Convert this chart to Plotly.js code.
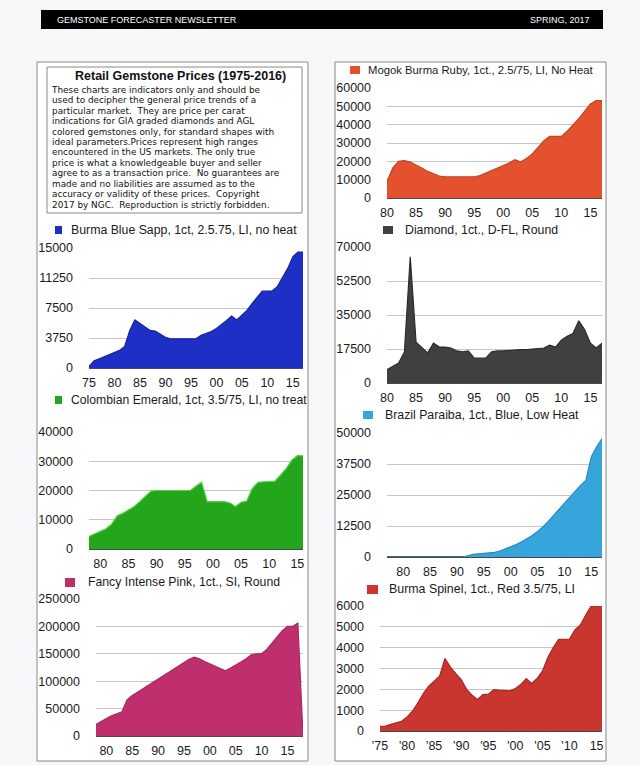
<!DOCTYPE html>
<html>
<head>
<meta charset="utf-8">
<script src="https://cdn.plot.ly/plotly-3.0.1.min.js"></script>
<style>
  html, body { margin: 0; padding: 0; background: #f7f7f9; }
  #chart { width: 640px; height: 765px; }
</style>
</head>
<body>
<div id="chart"></div>
<script>
// ---------------- DATA ----------------
const sappYears = [1975,1976,1977,1978,1979,1980,1981,1982,1983,1984,1985,1986,1987,1988,1989,1990,1991,1992,1993,1994,1995,1996,1997,1998,1999,2000,2001,2002,2003,2004,2005,2006,2007,2008,2009,2010,2011,2012,2013,2014,2015,2016,2017];
const sappValues = [200,900,1150,1400,1650,1900,2200,2700,4700,6000,5600,5150,4700,4600,4200,3850,3650,3650,3650,3650,3650,3650,4100,4300,4550,4950,5400,5950,6500,6000,6600,7200,8050,8900,9600,9600,9650,10200,11250,12450,13900,14500,14500];

const rubyYears = [1980,1981,1982,1983,1984,1985,1986,1987,1988,1989,1990,1991,1992,1993,1994,1995,1996,1997,1998,1999,2000,2001,2002,2003,2004,2005,2006,2007,2008,2009,2010,2011,2012,2013,2014,2015,2016,2017];
const rubyValues = [9000,16400,20000,20400,19600,18200,16400,14500,13100,12000,11500,11500,11500,11500,11500,11600,12200,13600,14900,16400,17600,19100,20900,19600,21500,24000,27600,31300,33600,33600,33600,36400,39600,43300,47300,51300,53100,53100];

const diamondYears = [1980,1981,1982,1983,1984,1985,1986,1987,1988,1989,1990,1991,1992,1993,1994,1995,1996,1997,1998,1999,2000,2001,2002,2003,2004,2005,2006,2007,2008,2009,2010,2011,2012,2013,2014,2015,2016,2017];
const diamondValues = [6900,8600,10300,16000,65000,21000,18000,15500,20500,18500,18500,18000,16500,16000,16500,12800,12800,12800,16000,16500,16500,16800,17200,17200,17200,17500,17500,18000,19500,18500,22000,24000,25500,32000,27500,20500,18000,20500];

const emeraldYears = [1978,1979,1980,1981,1982,1983,1984,1985,1986,1987,1988,1989,1990,1991,1992,1993,1994,1995,1996,1997,1998,1999,2000,2001,2002,2003,2004,2005,2006,2007,2008,2009,2010,2011,2012,2013,2014,2015,2016];
const emeraldValues = [4300,5100,6000,6900,8500,11400,12200,13400,14500,16200,18100,19800,20000,20000,20000,20000,20000,20000,20000,21500,22800,16200,16200,16200,16200,15800,14500,16000,16400,20700,22800,23000,23000,23200,25300,27500,30400,31900,31900];

const paraibaYears = [1977,1978,1979,1980,1981,1982,1983,1984,1985,1986,1987,1988,1989,1990,1991,1992,1993,1994,1995,1996,1997,1998,1999,2000,2001,2002,2003,2004,2005,2006,2007,2008,2009,2010,2011,2012,2013,2014,2015,2016,2017];
const paraibaValues = [0,0,0,0,0,0,0,0,0,0,0,0,0,0,0,500,1100,1300,1500,1600,1900,2400,3200,4000,5000,6000,7300,8700,10300,12100,14400,16800,19200,21800,24200,26600,28900,30900,40300,44400,47700];

const pinkYears = [1978,1979,1980,1981,1982,1983,1984,1985,1986,1987,1988,1989,1990,1991,1992,1993,1994,1995,1996,1997,1998,1999,2000,2001,2002,2003,2004,2005,2006,2007,2008,2009,2010,2011,2012,2013,2014,2015,2016,2017,2018];
const pinkValues = [21000,27000,32000,37000,41000,44000,66000,74000,80000,86000,92000,98000,104000,110000,116000,122000,128000,134000,140000,144000,141000,136000,132000,128000,124000,119000,124000,129000,135000,141000,148000,150000,150000,158000,170000,180000,192000,200000,200000,206000,0];

const spinelYears = [1975,1976,1977,1978,1979,1980,1981,1982,1983,1984,1985,1986,1987,1988,1989,1990,1991,1992,1993,1994,1995,1996,1997,1998,1999,2000,2001,2002,2003,2004,2005,2006,2007,2008,2009,2010,2011,2012,2013,2014,2015,2016];
const spinelValues = [225,240,320,385,465,675,950,1350,1800,2150,2400,2630,3480,3070,2750,2470,2000,1720,1510,1750,1770,1990,1960,1930,1930,2040,2230,2520,2280,2520,2870,3530,4010,4400,4410,4410,4850,5090,5570,6000,6000,6000];

const legendNames = [
  "Burma Blue Sapp, 1ct, 2.5.75, LI, no heat",
  "Colombian Emerald, 1ct, 3.5/75, LI, no treat",
  "Fancy Intense Pink, 1ct., SI, Round",
  "Mogok Burma Ruby, 1ct., 2.5/75, LI, No Heat",
  "Diamond, 1ct., D-FL, Round",
  "Brazil Paraiba, 1ct., Blue, Low Heat",
  "Burma Spinel, 1ct., Red 3.5/75, LI"
];

const tickYears5 = [1975,1980,1985,1990,1995,2000,2005,2010,2015];
const tickText5 = ["75","80","85","90","95","00","05","10","15"];
const tickYears8 = [1980,1985,1990,1995,2000,2005,2010,2015];
const tickText8 = ["80","85","90","95","00","05","10","15"];
const spinelTickText = ["'75","'80","'85","'90","'95","'00","'05","'10","15"];

const sappTicks = [0,3750,7500,11250,15000];
const emeraldTicks = [0,10000,20000,30000,40000];
const pinkTicks = [0,50000,100000,150000,200000,250000];
const rubyTicks = [0,10000,20000,30000,40000,50000,60000];
const diamondTicks = [0,17500,35000,52500,70000];
const paraibaTicks = [0,12500,25000,37500,50000];
const spinelTicks = [0,1000,2000,3000,4000,5000,6000];

const introTitle = "Retail Gemstone Prices (1975-2016)";
const introLines = [
  "These charts are indicators only and should be",
  "used to decipher the general price trends of a",
  "particular market.  They are price per carat",
  "indications for GIA graded diamonds and AGL",
  "colored gemstones only, for standard shapes with",
  "ideal parameters.Prices represent high ranges",
  "encountered in the US markets. The only true",
  "price is what a knowledgeable buyer and seller",
  "agree to as a transaction price.  No guarantees are",
  "made and no liabilities are assumed as to the",
  "accuracy or validity of these prices.  Copyright",
  "2017 by NGC.  Reproduction is strictly forbidden."
];

// ---------------- LAYOUT ----------------
const W = 640, H = 765;
const fx = p => p / W;
const fy = p => 1 - p / H;
const FONT = "Liberation Sans, Arial, Helvetica, sans-serif";
const INTRO_FONT = "DejaVu Sans, Liberation Sans, sans-serif";
const INTRO_TOP = 85;          // px, top of the intro text block
const INTRO_LINE_FACTOR = 0.9;  // 1.3em -> 1.17em line spacing (no overlap)

const panels = [
  {x: sappYears, y: sappValues, name: legendNames[0], fill: "#1d2fc4", line: "#16249c",
   box: [89,303,248,368], xr: [1975,2017], yr: [0,15000], ytv: sappTicks, xtv: tickYears5, xtt: tickText5,
   sq: [55,62,226,234], tx: 69, ty: 230, fs: 12.3},
  {x: emeraldYears, y: emeraldValues, name: legendNames[1], fill: "#24a61c", line: "#5ad446",
   box: [89,303,432,549], xr: [1978,2016], yr: [0,40000], ytv: emeraldTicks, xtv: tickYears8, xtt: tickText8,
   sq: [55,62,396,404], tx: 69, ty: 400, fs: 12.2},
  {x: pinkYears, y: pinkValues, name: legendNames[2], fill: "#bf2f6d", line: "#a8275e",
   box: [96,303,599,736], xr: [1978,2018], yr: [0,250000], ytv: pinkTicks, xtv: tickYears8, xtt: tickText8,
   sq: [65,75,578,587], tx: 86, ty: 582, fs: 12.25},
  {x: rubyYears, y: rubyValues, name: legendNames[3], fill: "#e4512f", line: "#c9421f",
   box: [387,602,88,198], xr: [1980,2017], yr: [0,60000], ytv: rubyTicks, xtv: tickYears8, xtt: tickText8,
   sq: [350,360,66,74], tx: 366, ty: 70, fs: 11.3},
  {x: diamondYears, y: diamondValues, name: legendNames[4], fill: "#3e4042", line: "#2a2b2c",
   box: [387,602,247,383], xr: [1980,2017], yr: [0,70000], ytv: diamondTicks, xtv: tickYears8, xtt: tickText8,
   sq: [383,393,226,234], tx: 403, ty: 230, fs: 12.3},
  {x: paraibaYears, y: paraibaValues, name: legendNames[5], fill: "#36a5dc", line: "#2a8cc2",
   box: [387,602,433,557], xr: [1977,2017], yr: [0,50000], ytv: paraibaTicks, xtv: tickYears8, xtt: tickText8,
   sq: [363,373,411,419], tx: 383, ty: 415, fs: 12.3},
  {x: spinelYears, y: spinelValues, name: legendNames[6], fill: "#c9352f", line: "#a92723",
   box: [380,602,606,731], xr: [1975,2016], yr: [0,6000], ytv: spinelTicks, xtv: tickYears5, xtt: spinelTickText,
   sq: [367,378,585,594], tx: 387, ty: 589, fs: 12.4}
];

const data = [];
const layout = {
  width: W, height: H,
  margin: {l: 0, r: 0, t: 0, b: 0},
  paper_bgcolor: "#f7f7f9",
  plot_bgcolor: "rgba(0,0,0,0)",
  showlegend: false,
  font: {family: FONT, color: "#1a1a1a"},
  shapes: [],
  annotations: []
};

// page decorations
layout.shapes.push({type: "rect", xref: "paper", yref: "paper", layer: "below",
  x0: fx(41), x1: fx(603), y0: fy(10), y1: fy(29), fillcolor: "#000", line: {width: 0}});
layout.shapes.push({type: "rect", xref: "paper", yref: "paper", layer: "below",
  x0: fx(37), x1: fx(308), y0: fy(62), y1: fy(761), fillcolor: "#ffffff", line: {color: "#8a8a8a", width: 1}});
layout.shapes.push({type: "rect", xref: "paper", yref: "paper", layer: "below",
  x0: fx(335), x1: fx(606), y0: fy(62), y1: fy(761), fillcolor: "#ffffff", line: {color: "#8a8a8a", width: 1}});
layout.shapes.push({type: "rect", xref: "paper", yref: "paper", layer: "below",
  x0: fx(47), x1: fx(302), y0: fy(67), y1: fy(213), fillcolor: "#ffffff", line: {color: "#8a8a8a", width: 1}});

layout.annotations.push({text: "GEMSTONE FORECASTER NEWSLETTER", xref: "paper", yref: "paper",
  x: fx(55), y: fy(19.5), xanchor: "left", yanchor: "middle", showarrow: false,
  font: {family: FONT, size: 9, color: "#ffffff"}});
layout.annotations.push({text: "SPRING, 2017", xref: "paper", yref: "paper",
  x: fx(592), y: fy(19.5), xanchor: "right", yanchor: "middle", showarrow: false,
  font: {family: FONT, size: 9, color: "#ffffff"}});

layout.annotations.push({text: "<b>" + introTitle + "</b>", xref: "paper", yref: "paper",
  x: fx(180), y: fy(76), xanchor: "center", yanchor: "middle", showarrow: false,
  font: {family: FONT, size: 12.5, color: "#111"}});
// intro paragraph as ONE multi-line text block
layout.annotations.push({text: introLines.join("<br>"), xref: "paper", yref: "paper",
  x: fx(49), y: fy(INTRO_TOP), xanchor: "left", yanchor: "top", align: "left", showarrow: false,
  font: {family: INTRO_FONT, size: 8.9, color: "#111"}});

panels.forEach((p, i) => {
  const n = i + 1;
  const xa = "x" + (n === 1 ? "" : n), ya = "y" + (n === 1 ? "" : n);
  data.push({
    type: "scatter", mode: "lines", x: p.x, y: p.y, xaxis: xa, yaxis: ya,
    fill: "tozeroy", fillcolor: p.fill, line: {color: p.line, width: 1.2},
    hoverinfo: "x+y", name: p.name
  });
  const [x0, x1, y0, y1] = p.box;
  layout["xaxis" + (n === 1 ? "" : n)] = {
    domain: [fx(x0), fx(x1)], range: p.xr, anchor: ya,
    showgrid: false, zeroline: false, showline: false, ticks: "",
    tickvals: p.xtv, ticktext: p.xtt, ticklabelstandoff: 5,
    tickfont: {family: FONT, size: 12.5, color: "#1a1a1a"}, fixedrange: true
  };
  layout["yaxis" + (n === 1 ? "" : n)] = {
    domain: [fy(y1), fy(y0)], range: p.yr, anchor: xa,
    showgrid: true, gridcolor: "#c6c6c6", gridwidth: 1,
    zeroline: true, zerolinecolor: "#4a4a4a", zerolinewidth: 1.5,
    showline: false, ticks: "", tickvals: p.ytv, tickformat: "d", ticklabelstandoff: 15,
    tickfont: {family: FONT, size: 12.5, color: "#1a1a1a"}, fixedrange: true
  };
  layout.shapes.push({type: "rect", xref: "paper", yref: "paper",
    x0: fx(p.sq[0]), x1: fx(p.sq[1]), y0: fy(p.sq[3]), y1: fy(p.sq[2]),
    fillcolor: p.fill, line: {width: 0}});
  layout.annotations.push({text: p.name, xref: "paper", yref: "paper",
    x: fx(p.tx), y: fy(p.ty), xanchor: "left", yanchor: "middle", showarrow: false,
    font: {family: FONT, size: p.fs, color: "#1a1a1a"}});
});

Plotly.newPlot("chart", data, layout, {displayModeBar: false, staticPlot: true}).then(gd => {
  // tighten the line spacing of the intro paragraph (still without overlapping lines)
  gd.querySelectorAll("text.annotation-text").forEach(t => {
    if (!t.textContent.startsWith("These charts")) return;
    const lines = t.querySelectorAll("tspan.line");
    lines.forEach(ts => {
      const dy = parseFloat(ts.getAttribute("dy") || "0");
      ts.setAttribute("dy", (dy * INTRO_LINE_FACTOR) + "em");
    });
    const host = gd.getBoundingClientRect();
    const r = t.getBoundingClientRect();
    const shift = INTRO_TOP - (r.top - host.top);
    lines.forEach(ts => {
      const y = parseFloat(ts.getAttribute("y") || "0");
      ts.setAttribute("y", y + shift);
    });
  });
});
</script>
</body>
</html>
